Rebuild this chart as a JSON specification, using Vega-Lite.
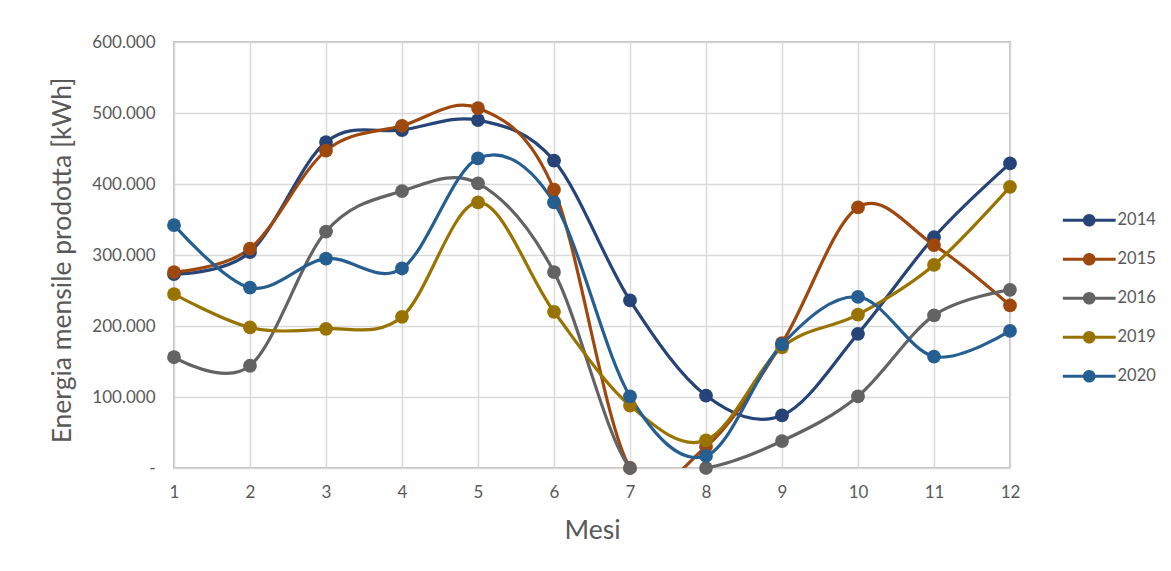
{
  "$schema": "https://vega.github.io/schema/vega-lite/v6.json",
  "width": 836,
  "height": 426,
  "autosize": {"type": "none"},
  "padding": {"left": 174, "top": 42, "right": 161, "bottom": 103},
  "background": "white",
  "config": {
    "font": "Lato",
    "view": {"stroke": "#bfbfbf", "strokeWidth": 2},
    "axis": {
      "grid": true,
      "gridColor": "#d9d9d9",
      "gridWidth": 1.5,
      "domain": false,
      "ticks": false,
      "labelColor": "#595959",
      "labelFontSize": 17,
      "labelFont": "Lato",
      "titleColor": "#595959",
      "titleFontSize": 26.5,
      "titleFontWeight": "normal",
      "titleFont": "Lato"
    }
  },
  "data": {
    "values": [
      {"mese": 1, "anno": "2014", "kwh": 273000},
      {"mese": 2, "anno": "2014", "kwh": 304000},
      {"mese": 3, "anno": "2014", "kwh": 459000},
      {"mese": 4, "anno": "2014", "kwh": 476000},
      {"mese": 5, "anno": "2014", "kwh": 490000},
      {"mese": 6, "anno": "2014", "kwh": 433000},
      {"mese": 7, "anno": "2014", "kwh": 236000},
      {"mese": 8, "anno": "2014", "kwh": 102000},
      {"mese": 9, "anno": "2014", "kwh": 74000},
      {"mese": 10, "anno": "2014", "kwh": 189000},
      {"mese": 11, "anno": "2014", "kwh": 325000},
      {"mese": 12, "anno": "2014", "kwh": 429000},
      {"mese": 1, "anno": "2015", "kwh": 276000},
      {"mese": 2, "anno": "2015", "kwh": 309000},
      {"mese": 3, "anno": "2015", "kwh": 447000},
      {"mese": 4, "anno": "2015", "kwh": 482000},
      {"mese": 5, "anno": "2015", "kwh": 507000},
      {"mese": 6, "anno": "2015", "kwh": 392000},
      {"mese": 7, "anno": "2015", "kwh": 0},
      {"mese": 8, "anno": "2015", "kwh": 30000},
      {"mese": 9, "anno": "2015", "kwh": 176000},
      {"mese": 10, "anno": "2015", "kwh": 367000},
      {"mese": 11, "anno": "2015", "kwh": 314000},
      {"mese": 12, "anno": "2015", "kwh": 229000},
      {"mese": 1, "anno": "2016", "kwh": 156000},
      {"mese": 2, "anno": "2016", "kwh": 144000},
      {"mese": 3, "anno": "2016", "kwh": 333000},
      {"mese": 4, "anno": "2016", "kwh": 390000},
      {"mese": 5, "anno": "2016", "kwh": 401000},
      {"mese": 6, "anno": "2016", "kwh": 276000},
      {"mese": 7, "anno": "2016", "kwh": 0},
      {"mese": 8, "anno": "2016", "kwh": 0},
      {"mese": 9, "anno": "2016", "kwh": 38000},
      {"mese": 10, "anno": "2016", "kwh": 101000},
      {"mese": 11, "anno": "2016", "kwh": 215000},
      {"mese": 12, "anno": "2016", "kwh": 251000},
      {"mese": 1, "anno": "2019", "kwh": 245000},
      {"mese": 2, "anno": "2019", "kwh": 198000},
      {"mese": 3, "anno": "2019", "kwh": 196000},
      {"mese": 4, "anno": "2019", "kwh": 213000},
      {"mese": 5, "anno": "2019", "kwh": 374000},
      {"mese": 6, "anno": "2019", "kwh": 220000},
      {"mese": 7, "anno": "2019", "kwh": 88000},
      {"mese": 8, "anno": "2019", "kwh": 39000},
      {"mese": 9, "anno": "2019", "kwh": 170000},
      {"mese": 10, "anno": "2019", "kwh": 216000},
      {"mese": 11, "anno": "2019", "kwh": 286000},
      {"mese": 12, "anno": "2019", "kwh": 396000},
      {"mese": 1, "anno": "2020", "kwh": 342000},
      {"mese": 2, "anno": "2020", "kwh": 254000},
      {"mese": 3, "anno": "2020", "kwh": 295000},
      {"mese": 4, "anno": "2020", "kwh": 281000},
      {"mese": 5, "anno": "2020", "kwh": 436000},
      {"mese": 6, "anno": "2020", "kwh": 374000},
      {"mese": 7, "anno": "2020", "kwh": 101000},
      {"mese": 8, "anno": "2020", "kwh": 17000},
      {"mese": 9, "anno": "2020", "kwh": 174000},
      {"mese": 10, "anno": "2020", "kwh": 241000},
      {"mese": 11, "anno": "2020", "kwh": 157000},
      {"mese": 12, "anno": "2020", "kwh": 193000}
    ]
  },
  "encoding": {
    "x": {
      "field": "mese",
      "type": "quantitative",
      "scale": {"domain": [1, 12], "nice": false, "zero": false},
      "axis": {
        "values": [1, 2, 3, 4, 5, 6, 7, 8, 9, 10, 11, 12],
        "format": "d",
        "labelFlush": false,
        "title": "Mesi",
        "labelPadding": 16,
        "titlePadding": 17
      }
    },
    "y": {
      "field": "kwh",
      "type": "quantitative",
      "scale": {"domain": [0, 600000], "nice": false},
      "axis": {
        "values": [0, 100000, 200000, 300000, 400000, 500000, 600000],
        "labelExpr": "datum.value === 0 ? '-\u00a0\u00a0\u00a0' : replace(format(datum.value, ',d'), ',', '.')",
        "labelPadding": 19,
        "title": "Energia mensile prodotta [kWh]",
        "titleX": -112,
        "titleY": 218,
        "titleAngle": -90,
        "titleAlign": "center",
        "titleBaseline": "middle"
      }
    },
    "color": {
      "field": "anno",
      "type": "nominal",
      "scale": {
        "domain": ["2014", "2015", "2016", "2019", "2020"],
        "range": ["#264478", "#9e480e", "#636363", "#997300", "#255e91"]
      },
      "legend": {
        "title": null,
        "orient": "none",
        "legendX": 907,
        "legendY": 170,
        "padding": 0,
        "symbolType": "M-4.8,-0.27 L4.8,-0.27 L4.8,0.27 L-4.8,0.27 Z M-1.15,0 A1.15,1.15 0 1,1 1.15,0 A1.15,1.15 0 1,1 -1.15,0 Z",
        "symbolSize": 121,
        "symbolStrokeWidth": 0,
        "labelOffset": 20,
        "labelFontSize": 16.5,
        "labelColor": "#595959",
        "labelFont": "Lato",
        "rowPadding": 22,
        "encode": {
          "symbols": {
            "update": {
              "fill": {"scale": "color", "field": "value"},
              "stroke": {"value": "transparent"},
              "opacity": {"value": 1}
            }
          }
        }
      }
    }
  },
  "layer": [
    {"mark": {"type": "line", "interpolate": "cardinal", "strokeWidth": 3.2, "clip": true}},
    {"mark": {"type": "point", "filled": true, "size": 190, "opacity": 1}}
  ]
}
